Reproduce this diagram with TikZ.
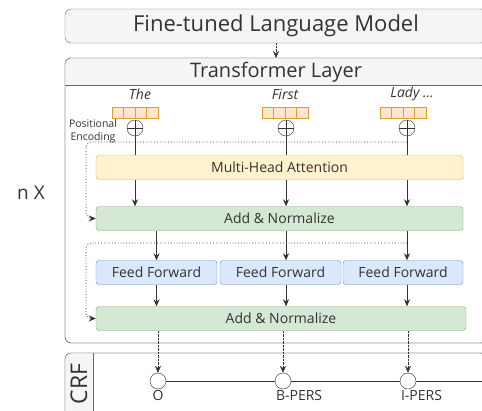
\documentclass[tikz,border=0pt]{standalone}
\usepackage{fontspec}
\setmainfont{Open Sans}
\usepackage{xcolor}
\usetikzlibrary{arrows.meta}

\definecolor{ink}{HTML}{333333}
\definecolor{edge}{HTML}{666666}
\definecolor{headfill}{HTML}{F5F5F5}
\definecolor{attfill}{HTML}{FFF2CC}
\definecolor{attdraw}{HTML}{D6B656}
\definecolor{normfill}{HTML}{D5E8D4}
\definecolor{normdraw}{HTML}{82B366}
\definecolor{fffill}{HTML}{DAE8FC}
\definecolor{ffdraw}{HTML}{6C8EBF}
\definecolor{embfill}{HTML}{FFE6CC}
\definecolor{embdraw}{HTML}{E0A030}

\begin{document}
\begin{tikzpicture}[x=1pt,y=-1pt,
  every node/.style={text=ink},
  panel/.style={draw=edge,rounded corners=6pt},
  block/.style={rounded corners=3pt,font=\fontsize{14}{16}\selectfont,minimum height=24pt},
  att/.style={block,draw=attdraw,fill=attfill},
  norm/.style={block,draw=normdraw,fill=normfill},
  ffn/.style={block,draw=ffdraw,fill=fffill},
  word/.style={font=\fontsize{14}{16}\selectfont\itshape},
  tag/.style={font=\fontsize{14}{16}\selectfont,inner sep=1pt},
  adder/.style={draw=ink,circle,fill=white,minimum size=16pt,inner sep=0pt,
    path picture={\draw[ink] (path picture bounding box.north) -- (path picture bounding box.south)
      (path picture bounding box.west) -- (path picture bounding box.east);}},
  state/.style={draw=ink,circle,fill=white,minimum size=16pt,inner sep=0pt},
  arr/.style={ink,thick,-{Stealth[length=7pt,width=6pt]}},
  link/.style={ink,thick},
  res/.style={ink,dotted,line width=0.8pt,rounded corners=6pt,-{Stealth[length=7pt,width=6pt]}}]

\useasboundingbox (0,0) rectangle (482,410);
\clip (0,0) rectangle (482,410);

% language model on top
\draw[panel,fill=headfill] (65,9) rectangle (487,43);
\node[font=\fontsize{22}{24}\selectfont] (lm) at (276,26) {Fine-tuned Language Model};

% transformer layer frame
\draw[panel,fill=white] (65,58) rectangle (487,343);
\begin{scope}
  \clip[rounded corners=6pt] (65,58) rectangle (487,343);
  \fill[headfill] (65,58) rectangle (487,85);
\end{scope}
\draw[panel] (65,58) rectangle (487,343);
\draw[edge] (65,85) -- (487,85);
\node[font=\fontsize{20}{22}\selectfont] (tl) at (276,72) {Transformer Layer};
\draw[arr,thin,densely dotted] (276,43) -- (276,58);

\node[font=\fontsize{19}{21}\selectfont] (nx) at (31,193) {n X};

% input tokens
\node[word] (w-the) at (140,94) {The};
\node[word] (w-first) at (285,94) {First};
\node[word] (w-lady) at (412,94) {Lady ...};
\foreach \x in {112,262,380}
  \foreach \i in {0,...,3}
    \draw[draw=embdraw,fill=embfill] (\x+\i*11.5,107) rectangle ++(11.5,11);

\node[adder] (plus-the) at (135,128) {};
\node[adder] (plus-first) at (286,128) {};
\node[adder] (plus-lady) at (407,128) {};
\node[align=center,font=\fontsize{10.5}{13}\selectfont,inner sep=0pt] (pe) at (93,131) {Positional\\Encoding};

% attention and first norm
\node[att,minimum width=367pt] (mha) at (279.5,167.5) {Multi-Head Attention};
\node[norm,minimum width=367pt] (an1) at (279.5,218.5) {Add \& Normalize};
\foreach \p in {plus-the,plus-first,plus-lady} {
  \draw[link] (\p) -- (\p |- mha.north);
  \draw[arr] (\p |- mha.south) -- (\p |- an1.north);
}
\coordinate (res1) at (407,142);
\draw[res] (res1) -- (86,142) |- (an1.west);

% feed forward and second norm
\node[ffn,minimum width=121pt] (ff1) at (156.5,272.5) {Feed Forward};
\node[ffn,minimum width=121pt] (ff2) at (280.5,272.5) {Feed Forward};
\node[ffn,minimum width=120pt] (ff3) at (403,272.5) {Feed Forward};
\node[norm,minimum width=370pt] (an2) at (281,318.5) {Add \& Normalize};
\draw[arr] (ff1 |- an1.south) -- (ff1.north);
\draw[arr] (plus-first |- an1.south) -- (plus-first |- ff2.north);
\draw[arr] (plus-lady |- an1.south) -- (plus-lady |- ff3.north);
\draw[arr] (ff1.south) -- (ff1 |- an2.north);
\draw[arr] (plus-first |- ff2.south) -- (plus-first |- an2.north);
\draw[arr] (plus-lady |- ff3.south) -- (plus-lady |- an2.north);
\coordinate (res2) at (407,243);
\draw[res] (res2) -- (86,243) |- (an2.west);

% crf output
\draw[panel,fill=white] (65,353) rectangle (487,440);
\begin{scope}
  \clip[rounded corners=6pt] (65,353) rectangle (487,440);
  \fill[headfill] (65,353) rectangle (93,440);
\end{scope}
\draw[panel] (65,353) rectangle (487,440);
\draw[edge] (93,353) -- (93,440);
\node[rotate=90,font=\fontsize{23}{25}\selectfont] (crf) at (79,384) {CRF};

\node[state] (c-o) at (158,381) {};
\node[state] (c-b) at (283,381) {};
\node[state] (c-i) at (408,381) {};
\coordinate (crf-end) at (487,381);
\draw[link] (c-o) -- (c-b) (c-b) -- (c-i) (c-i) -- (crf-end);
\node[tag,anchor=north] at (c-o.south) {O};
\node[tag,anchor=north west] at (c-b.south -| c-b.west) {B-PERS};
\node[tag,anchor=north west] at (c-i.south -| c-i.west) {I-PERS};
\foreach \c in {c-o,c-b,c-i}
  \draw[arr,thin,densely dotted] (\c |- an2.south) -- (\c.north);
\end{tikzpicture}
\end{document}
